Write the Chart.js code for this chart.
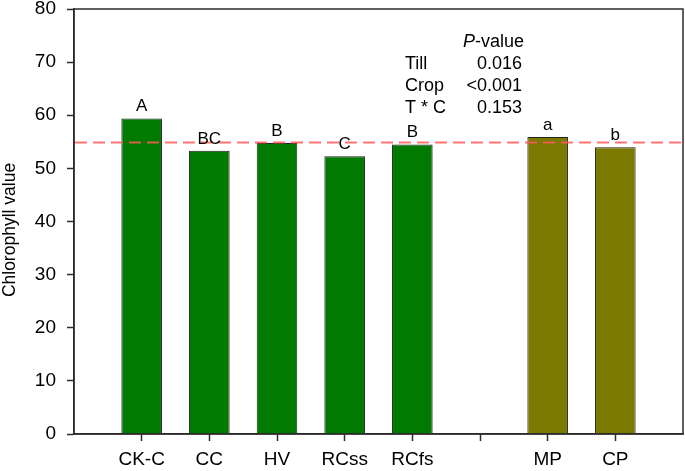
<!DOCTYPE html>
<html>
<head>
<meta charset="utf-8">
<script src="https://cdn.jsdelivr.net/npm/chart.js@4"></script>
<style>
  html, body { margin: 0; padding: 0; background: #fff; }
  #wrap { width: 685px; height: 471px; }
</style>
</head>
<body>
<div id="wrap"><canvas id="chart" width="685" height="471"></canvas></div>
<script>
// blank slots at both ends and between the two groups
const categories = ['', 'CK-C', 'CC', 'HV', 'RCss', 'RCfs', '', 'MP', 'CP', ''];
const chlorophyll = [null, 59.4, 53.3, 54.8, 52.3, 54.5, null, 55.9, 54.0, null];
const letters = ['', 'A', 'BC', 'B', 'C', 'B', '', 'a', 'b', ''];
const cropGroupStart = 7;
const overallMean = 54.85;
const pValueRows = [['Till', '0.016'], ['Crop', '<0.001'], ['T * C', '0.153']];
const yTitle = 'Chlorophyll value';

const FONT = "'Liberation Sans', Arial, sans-serif";
const GREEN = 'rgb(0,122,0)';
const OLIVE = 'rgb(122,122,0)';
const AXIS = '#2b2b2b';

const extras = {
  id: 'extras',
  afterDatasetsDraw(chart) {
    const ctx = chart.ctx;
    const area = chart.chartArea;
    const y = chart.scales.y;

    // mean line
    const my = y.getPixelForValue(overallMean);
    ctx.save();
    ctx.strokeStyle = 'rgba(255,90,90,0.85)';
    ctx.lineWidth = 2;
    ctx.setLineDash([12, 6]);
    ctx.beginPath();
    ctx.moveTo(area.left + 1, my);
    ctx.lineTo(area.right - 1, my);
    ctx.stroke();
    ctx.restore();

    // letters above bars
    const meta = chart.getDatasetMeta(0);
    ctx.save();
    ctx.fillStyle = '#000';
    ctx.font = '17px ' + FONT;
    ctx.textAlign = 'center';
    ctx.textBaseline = 'alphabetic';
    meta.data.forEach((bar, i) => {
      if (!letters[i] || chlorophyll[i] == null) return;
      ctx.fillText(letters[i], bar.x, bar.y - 7);
    });
    ctx.restore();

    // P-value table
    ctx.save();
    ctx.fillStyle = '#000';
    ctx.textBaseline = 'alphabetic';
    ctx.font = '18px ' + FONT;
    ctx.textAlign = 'right';
    const rest = '-value';
    const restW = ctx.measureText(rest).width;
    ctx.fillText(rest, 524, 46.5);
    ctx.font = 'italic 18px ' + FONT;
    ctx.fillText('P', 524 - restW, 46.5);
    ctx.font = '18px ' + FONT;
    pValueRows.forEach((row, i) => {
      const by = 69 + i * 22.2;
      ctx.textAlign = 'left';
      ctx.fillText(row[0], 405, by);
      ctx.textAlign = 'right';
      ctx.fillText(row[1], 522, by);
    });
    ctx.restore();

    // y axis title, sits a little below the plot middle in the original
    ctx.save();
    ctx.translate(10, 230);
    ctx.rotate(-Math.PI / 2);
    ctx.fillStyle = '#000';
    ctx.font = '17.5px ' + FONT;
    ctx.textAlign = 'center';
    ctx.textBaseline = 'middle';
    ctx.fillText(yTitle, 0, 0);
    ctx.restore();

    // frame
    ctx.save();
    ctx.strokeStyle = AXIS;
    ctx.lineWidth = 1.5;
    ctx.strokeRect(area.left, area.top, area.right - area.left, area.bottom - area.top);
    ctx.restore();
  }
};

new Chart(document.getElementById('chart'), {
  type: 'bar',
  data: {
    labels: categories,
    datasets: [{
      data: chlorophyll,
      backgroundColor: c => c.dataIndex >= cropGroupStart ? OLIVE : GREEN,
      borderColor: '#222',
      borderWidth: 1,
      categoryPercentage: 1,
      barPercentage: 0.6
    }]
  },
  options: {
    responsive: false,
    devicePixelRatio: 1,
    animation: false,
    layout: { padding: { top: 9, right: 2, left: 0, bottom: 0 } },
    plugins: { legend: { display: false }, tooltip: { enabled: false } },
    scales: {
      x: {
        offset: false,
        grid: {
          offset: false,
          drawOnChartArea: false,
          tickLength: 7,
          tickWidth: 1.5,
          tickColor: c => (c.index === 0 || c.index === categories.length - 1) ? 'rgba(0,0,0,0)' : AXIS
        },
        border: { color: AXIS, width: 1.5 },
        ticks: { color: '#000', font: { family: FONT, size: 19 }, padding: 7, autoSkip: false, maxRotation: 0 },
        afterFit: s => { s.height = 37; s.paddingLeft = 0; s.paddingRight = 0; }
      },
      y: {
        min: 0,
        max: 80,
        ticks: { stepSize: 10, color: '#000', font: { family: FONT, size: 19 }, padding: 11 },
        grid: { drawOnChartArea: false, tickLength: 7, tickWidth: 1.5, tickColor: AXIS },
        border: { color: AXIS, width: 1.5 },
        afterFit: s => { s.width = 74; s.paddingTop = 0; s.paddingBottom = 0; }
      }
    }
  },
  plugins: [extras]
});
</script>
</body>
</html>
